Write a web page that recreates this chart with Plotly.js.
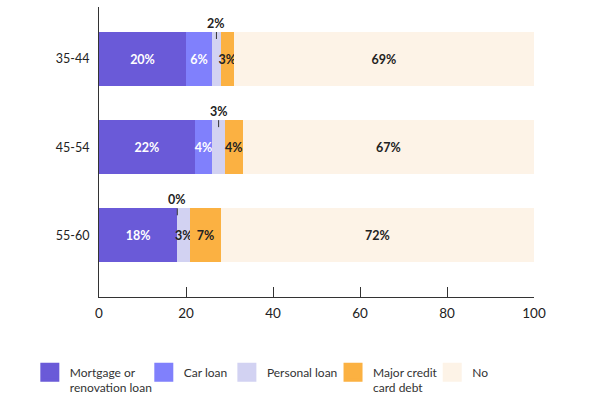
<!DOCTYPE html>
<html>
<head>
<meta charset="utf-8">
<script src="https://cdn.plot.ly/plotly-3.0.1.min.js"></script>
<style>html,body{margin:0;padding:0;background:#fff;}#chart{width:616px;height:398px;}</style>
</head>
<body>
<div id="chart"></div>
<script>
// Data
const ageGroups = ['35-44', '45-54', '55-60'];
const seriesNames = ['Mortgage or<br>renovation loan', 'Car loan', 'Personal loan', 'Major credit<br>card debt', 'No'];
const mortgage = [20, 22, 18];
const carLoan = [6, 4, 0];
const personalLoan = [2, 3, 3];
const creditCard = [3, 4, 7];
const noDebt = [69, 67, 72];
const xTicks = [0, 20, 40, 60, 80, 100];
// labels shown above the bar with a leader line: [series index, category]
const calloutLabels = [[2, '35-44'], [2, '45-54'], [1, '55-60']];

const seriesValues = [mortgage, carLoan, personalLoan, creditCard, noDebt];
const colors = ['#6a5ad8', '#8080fc', '#d2d2f2', '#fbb142', '#fdf3e7'];
const textColors = ['#ffffff', '#ffffff', '#222222', '#222222', '#222222'];
const legendX = [-0.159, 0.103, 0.294, 0.538, 0.766];
const FONT = 'Lato, "Open Sans", sans-serif';

function isCallout(si, cat) {
  return calloutLabels.some(c => c[0] === si && c[1] === cat);
}

const barTraces = seriesValues.map((vals, si) => ({
  type: 'bar',
  orientation: 'h',
  name: seriesNames[si],
  y: ageGroups,
  x: vals,
  showlegend: false,
  marker: {color: colors[si], line: {width: 0}},
  text: vals.map((v, i) => isCallout(si, ageGroups[i]) ? '' : v + '%'),
  textposition: 'inside',
  insidetextanchor: 'middle',
  textangle: 0,
  constraintext: 'none',
  textfont: {family: FONT, size: 12.5, color: textColors[si], weight: 'bold'},
  hoverinfo: 'skip'
}));

const legendId = si => si === 0 ? 'legend' : 'legend' + (si + 1);

// legend entries with large square swatches, one legend per entry
const legendTraces = seriesNames.map((name, si) => ({
  type: 'scatter',
  mode: 'markers',
  name: name,
  legend: legendId(si),
  x: [null], y: [null],
  marker: {symbol: 'square', size: 16, color: colors[si], line: {color: colors[si], width: 3}},
  hoverinfo: 'skip'
}));

const annotations = calloutLabels.map(([si, cat]) => {
  const i = ageGroups.indexOf(cat);
  let start = 0;
  for (let k = 0; k < si; k++) start += seriesValues[k][i];
  return {
    x: start + seriesValues[si][i] / 2,
    y: cat,
    xref: 'x', yref: 'y',
    text: '<b>' + seriesValues[si][i] + '%</b>',
    showarrow: true,
    arrowhead: 0,
    arrowwidth: 1,
    arrowcolor: '#333',
    ax: 0, ay: -16,
    standoff: 0,
    yshift: 20,
    font: {family: FONT, size: 12.5, color: '#222'}
  };
});

const layout = {
  width: 616, height: 398,
  margin: {l: 99, r: 82, t: 7, b: 101, autoexpand: false},
  paper_bgcolor: '#fff', plot_bgcolor: '#fff',
  barmode: 'stack',
  bargap: 0.386,
  showlegend: true,
  xaxis: {
    range: [0, 100],
    tickvals: xTicks,
    ticks: 'inside', ticklen: 10, tickcolor: '#333', tickwidth: 1,
    showline: true, linecolor: '#333', linewidth: 1,
    showgrid: false, zeroline: false,
    ticklabelstandoff: 4,
    tickfont: {family: FONT, size: 13.5, color: '#222'},
    fixedrange: true
  },
  yaxis: {
    type: 'category',
    categoryorder: 'array',
    categoryarray: ageGroups.slice().reverse(),
    range: [-0.7, 2.59],
    showline: true, linecolor: '#333', linewidth: 1,
    ticks: '', showgrid: false, zeroline: false,
    ticklabelstandoff: 6,
    tickfont: {family: FONT, size: 12.5, color: '#222'},
    fixedrange: true
  },
  annotations: annotations
};

seriesNames.forEach((n, si) => {
  layout[legendId(si)] = {
    orientation: 'h',
    x: legendX[si], xanchor: 'left',
    y: -0.21, yanchor: 'top',
    valign: 'top',
    itemsizing: 'trace',
    bgcolor: 'rgba(0,0,0,0)',
    font: {family: FONT, size: 12, color: '#333'}
  };
});

Plotly.newPlot('chart', barTraces.concat(legendTraces), layout, {displayModeBar: false, staticPlot: true});
</script>
</body>
</html>
